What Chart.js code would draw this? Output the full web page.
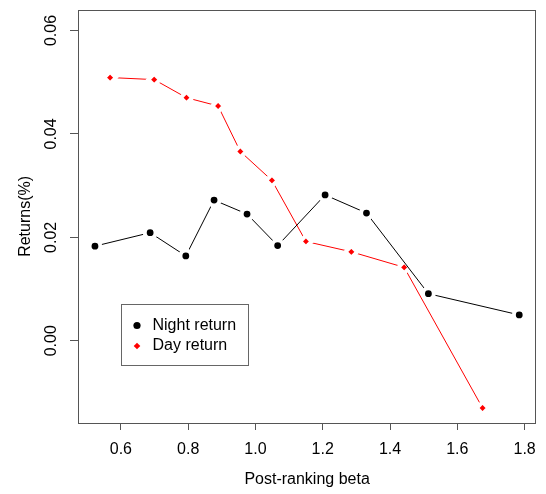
<!DOCTYPE html>
<html>
<head>
<meta charset="utf-8">
<script src="https://cdn.jsdelivr.net/npm/chart.js@4.4.1/dist/chart.umd.min.js"></script>
<style>
  html, body { margin: 0; padding: 0; background: #fff; }
  #wrap { width: 546px; height: 494px; }
</style>
</head>
<body>
<div id="wrap"><canvas id="myChart" width="546" height="494"></canvas></div>
<script>
// beta buckets and mean returns
const nightBeta = [0.523, 0.687, 0.793, 0.877, 0.975, 1.066, 1.207, 1.330, 1.514, 1.784]
const nightRet = [0.0183, 0.0209, 0.0164, 0.0272, 0.0245, 0.0184, 0.0282, 0.0247, 0.0091, 0.0050]
const dayBeta = [0.568, 0.699, 0.795, 0.889, 0.955, 1.049, 1.150, 1.285, 1.442, 1.675]
const dayRet = [0.0509, 0.0505, 0.0470, 0.0454, 0.0366, 0.0310, 0.0192, 0.0172, 0.0142, -0.0130]

const xTicks = [0.6, 0.8, 1.0, 1.2, 1.4, 1.6, 1.8]
const yTicks = [0.00, 0.02, 0.04, 0.06]

const FONT = "'Liberation Sans', Arial, sans-serif"
const AXIS = '#555'

function toPoints(xs, ys) {
  return xs.map((x, i) => ({ x: x, y: ys[i] }))
}

// box around the plot + legend in the lower left
const boxLegend = {
  id: 'boxLegend',
  afterDraw(chart) {
    const ctx = chart.ctx
    const a = chart.chartArea
    ctx.save()
    ctx.strokeStyle = AXIS
    ctx.lineWidth = 1
    ctx.strokeRect(Math.round(a.left) + 0.5, Math.round(a.top) + 0.5,
      Math.round(a.right - a.left) - 1, Math.round(a.bottom - a.top))

    // legend box
    const lx = 121.5, ly = 304.5, lw = 127, lh = 61
    ctx.strokeStyle = '#666'
    ctx.strokeRect(lx, ly, lw, lh)
    ctx.font = '16px ' + FONT
    ctx.textBaseline = 'middle'
    ctx.fillStyle = '#000'
    const rows = [
      { label: chart.data.datasets[0].label, y: 325.5, color: '#000', shape: 'circle' },
      { label: chart.data.datasets[1].label, y: 346, color: '#ff0000', shape: 'diamond' }
    ]
    rows.forEach(r => {
      ctx.fillStyle = r.color
      ctx.beginPath()
      if (r.shape === 'circle') {
        ctx.arc(137, r.y, 3.6, 0, Math.PI * 2)
      } else {
        ctx.moveTo(137 - 3.3, r.y)
        ctx.lineTo(137, r.y - 3.3)
        ctx.lineTo(137 + 3.3, r.y)
        ctx.lineTo(137, r.y + 3.3)
        ctx.closePath()
      }
      ctx.fill()
      ctx.fillStyle = '#000'
      ctx.fillText(r.label, 152.5, r.y)
    })
    ctx.restore()
  }
}

const ctx = document.getElementById('myChart')

new Chart(ctx, {
  type: 'scatter',
  data: {
    datasets: [{
      label: 'Night return',
      data: toPoints(nightBeta, nightRet),
      showLine: true,
      borderColor: '#000',
      borderWidth: 1,
      pointStyle: 'circle',
      pointRadius: 5.4,
      pointBackgroundColor: '#000',
      pointBorderColor: '#fff',
      pointBorderWidth: 4,
      pointHoverRadius: 5.4
    }, {
      label: 'Day return',
      data: toPoints(dayBeta, dayRet),
      showLine: true,
      borderColor: '#ff0000',
      borderWidth: 1,
      pointStyle: 'rectRot',
      pointRadius: 5.8,
      pointBackgroundColor: '#ff0000',
      pointBorderColor: '#fff',
      pointBorderWidth: 4,
      pointHoverRadius: 5.8
    }]
  },
  options: {
    responsive: false,
    animation: false,
    layout: { padding: { left: 0, top: 7, right: 5, bottom: 0 } },
    plugins: {
      legend: { display: false },
      tooltip: { enabled: false }
    },
    scales: {
      x: {
        type: 'linear',
        min: 0.4726,
        max: 1.8344,
        afterBuildTicks: (scale) => { scale.ticks = xTicks.map(v => ({ value: v })) },
        afterFit: (scale) => {
          scale.height = 71
          scale.paddingLeft = 0
          scale.paddingRight = 0
        },
        grid: { drawOnChartArea: false, drawTicks: true, tickLength: 7, color: AXIS },
        border: { display: false },
        ticks: {
          padding: 9.5,
          color: '#000',
          font: { family: FONT, size: 16 },
          maxRotation: 0,
          autoSkip: false,
          callback: (v) => v.toFixed(1)
        },
        title: {
          display: true,
          text: 'Post-ranking beta',
          color: '#000',
          font: { family: FONT, size: 16 },
          padding: { top: 0, bottom: 5 }
        }
      },
      y: {
        type: 'linear',
        min: -0.0159,
        max: 0.0640,
        afterBuildTicks: (scale) => { scale.ticks = yTicks.map(v => ({ value: v })) },
        afterFit: (scale) => {
          scale.width = 78
          scale.paddingTop = 0
          scale.paddingBottom = 0
        },
        grid: { drawOnChartArea: false, drawTicks: true, tickLength: 8, color: AXIS },
        border: { display: false },
        ticks: {
          padding: 3,
          color: '#000',
          font: { family: FONT, size: 16 },
          minRotation: 90,
          maxRotation: 90,
          crossAlign: 'center',
          autoSkip: false,
          callback: (v) => v.toFixed(2)
        },
        title: {
          display: true,
          text: 'Returns(%)',
          color: '#000',
          font: { family: FONT, size: 16 },
          padding: { top: 16, bottom: 0 }
        }
      }
    }
  },
  plugins: [boxLegend]
})
</script>
</body>
</html>
